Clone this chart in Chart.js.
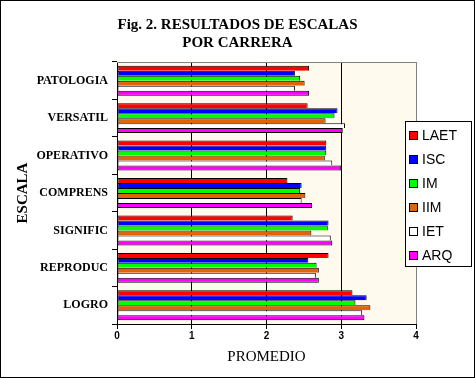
<!DOCTYPE html>
<html>
<head>
<meta charset="utf-8">
<title>Fig. 2. Resultados de escalas por carrera</title>
<script src="https://cdn.jsdelivr.net/npm/chart.js@4/dist/chart.umd.min.js"></script>
<style>
  html, body { margin: 0; padding: 0; background: #fff; }
  #cv { display: block; }
</style>
</head>
<body>
<canvas id="cv" width="475" height="378"></canvas>
<script>
  'use strict';
  // escalas (top to bottom)
  const escalas = ['PATOLOGIA', 'VERSATIL', 'OPERATIVO', 'COMPRENS', 'SIGNIFIC', 'REPRODUC', 'LOGRO'];
  // promedio por carrera
  const laet = [2.57, 2.55, 2.80, 2.28, 2.35, 2.83, 3.15];
  const isc  = [2.38, 2.95, 2.80, 2.47, 2.83, 2.56, 3.34];
  const im   = [2.45, 2.91, 2.80, 2.45, 2.82, 2.67, 3.19];
  const iim  = [2.51, 2.79, 2.78, 2.52, 2.60, 2.70, 3.39];
  const iet  = [2.38, 3.05, 2.88, 2.47, 2.86, 2.66, 3.28];
  const arq  = [2.57, 3.02, 3.00, 2.61, 2.88, 2.70, 3.31];
  const carreras = ['LAET', 'ISC', 'IM', 'IIM', 'IET', 'ARQ'];
  const colores = ['#ff0000', '#0000ff', '#00ff00', '#e0650a', '#ffffff', '#ff00ff'];
  const xTicks = [0, 1, 2, 3, 4];

  const series = [laet, isc, im, iim, iet, arq];
  const SERIF = "'Liberation Serif', 'Times New Roman', serif";
  const SANS = "'Liberation Sans', Arial, sans-serif";

  // cream plot background + top border + outer frame
  const frame = {
    id: 'frame',
    beforeDraw(chart) {
      const { ctx, chartArea: a } = chart;
      ctx.save();
      ctx.fillStyle = '#fff9ee';
      ctx.fillRect(a.left, a.top, a.right - a.left, a.bottom - a.top);
      ctx.restore();
    },
    afterDraw(chart) {
      const { ctx, chartArea: a, width, height } = chart;
      ctx.save();
      ctx.strokeStyle = '#808080';
      ctx.lineWidth = 1;
      ctx.beginPath();
      ctx.moveTo(a.left, Math.round(a.top) + 0.5);
      ctx.lineTo(a.right, Math.round(a.top) + 0.5);
      ctx.stroke();
      ctx.strokeStyle = '#000';
      ctx.strokeRect(0.5, 0.5, width - 1, height - 1);
      ctx.restore();
    }
  };

  // boxed legend overlapping the right edge of the plot
  const boxLegend = {
    id: 'boxLegend',
    afterDraw(chart) {
      const { ctx } = chart;
      const x = 405, y = 121, w = 66, h = 145, step = 24;
      ctx.save();
      ctx.fillStyle = '#fff';
      ctx.fillRect(x, y, w, h);
      ctx.strokeStyle = '#000';
      ctx.lineWidth = 1;
      ctx.strokeRect(x + 0.5, y + 0.5, w, h);
      ctx.font = '14px ' + SANS;
      ctx.textBaseline = 'middle';
      ctx.textAlign = 'left';
      chart.data.datasets.forEach((ds, i) => {
        const cy = y + 14 + i * step;
        ctx.fillStyle = ds.backgroundColor;
        ctx.fillRect(x + 4, cy - 4, 9, 9);
        ctx.strokeRect(x + 4.5, cy - 3.5, 8, 8);
        ctx.fillStyle = '#000';
        ctx.fillText(ds.label, x + 17, cy + 1);
      });
      ctx.restore();
    }
  };

  const last = carreras.length - 1;

  new Chart(document.getElementById('cv'), {
    type: 'bar',
    data: {
      labels: escalas,
      datasets: carreras.map((c, i) => ({
        label: c,
        data: series[i],
        backgroundColor: colores[i],
        borderColor: '#000',
        borderWidth: { top: 1, left: 1, right: 1, bottom: i === last ? 1 : 0 },
        borderSkipped: false,
        categoryPercentage: 0.8,
        barPercentage: 1.0
      }))
    },
    options: {
      indexAxis: 'y',
      responsive: false,
      devicePixelRatio: 1,
      animation: false,
      layout: { padding: 0 },
      plugins: {
        legend: { display: false },
        tooltip: { enabled: false },
        title: {
          display: true,
          text: ['Fig. 2. RESULTADOS DE ESCALAS', 'POR CARRERA'],
          color: '#000',
          font: { family: SERIF, size: 15, weight: 'bold', lineHeight: 1.2 },
          padding: { top: 16, bottom: 10 }
        }
      },
      scales: {
        x: {
          min: 0, max: 4,
          afterBuildTicks: s => { s.ticks = xTicks.map(v => ({ value: v })); },
          afterFit: s => { s.height = 54; },
          border: { color: '#000', width: 1 },
          grid: {
            color: c => (c.tick && c.tick.value === 4 ? '#808080' : '#000'),
            tickColor: '#000',
            tickLength: 5,
            drawOnChartArea: true
          },
          ticks: { color: '#000', padding: 1, font: { family: SANS, size: 10, weight: 'bold' } },
          title: {
            display: true,
            text: 'PROMEDIO',
            color: '#000',
            font: { family: SERIF, size: 15, lineHeight: 1.2 },
            padding: { top: 0, bottom: 12 }
          }
        },
        y: {
          afterFit: s => { s.width = 117; },
          border: { color: '#000', width: 1 },
          grid: { drawOnChartArea: false, color: '#000', tickLength: 5, offset: true },
          ticks: { color: '#000', padding: 4, font: { family: SERIF, size: 12, weight: 'bold' } },
          title: {
            display: true,
            text: 'ESCALA',
            color: '#000',
            font: { family: SERIF, size: 15, weight: 'bold', lineHeight: 1.2 },
            padding: { top: 14, bottom: 0 }
          }
        },
        // empty spacer on the right so the title stays centred on the full width
        spacer: {
          type: 'linear',
          position: 'right',
          display: true,
          afterFit: s => { s.width = 59; },
          grid: { display: false },
          border: { display: false },
          ticks: { display: false }
        }
      }
    },
    plugins: [frame, boxLegend]
  });
</script>
</body>
</html>
